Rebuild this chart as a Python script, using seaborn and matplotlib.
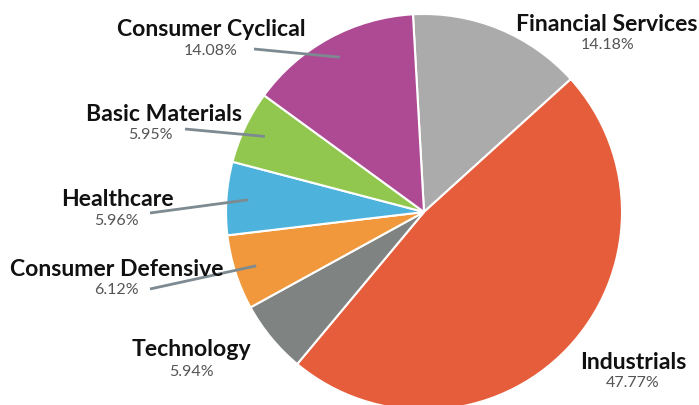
import numpy as np
import matplotlib
matplotlib.use("Agg")
import matplotlib.pyplot as plt
import seaborn as sns

# Sector weights (%), clockwise from the top
sectors = ["Financial Services", "Industrials", "Technology", "Consumer Defensive",
           "Healthcare", "Basic Materials", "Consumer Cyclical"]
weights = [14.18, 47.77, 5.94, 6.12, 5.96, 5.95, 14.08]
colors = ["#ABABAB", "#E55D3B", "#7F8381", "#F0983B", "#4DB2DC", "#92C74F", "#AD4A93"]

# label layout in pixel coords (x, baseline y from top) for name and percent
name_pos = {
    "Financial Services": (607, 31),
    "Industrials": (633, 369),
    "Technology": (191, 356),
    "Consumer Defensive": (117, 276),
    "Healthcare": (117, 206),
    "Basic Materials": (164, 121),
    "Consumer Cyclical": (211, 36),
}
pct_pos = {
    "Financial Services": (608, 49),
    "Industrials": (633, 387),
    "Technology": (191, 376),
    "Consumer Defensive": (116, 294),
    "Healthcare": (116, 225),
    "Basic Materials": (150, 139),
    "Consumer Cyclical": (211, 55),
}
# outer end of leader lines (only some labels have one)
leader_end = {
    "Consumer Cyclical": (254, 50),
    "Basic Materials": (185, 130),
    "Healthcare": (150, 214),
    "Consumer Defensive": (150, 290),
}

sns.set_theme(style="white")
plt.rcParams['font.family'] = ['Lato', 'DejaVu Sans']

W, H = 699, 406
fig = plt.figure(figsize=(W / 100, H / 100), dpi=100)
ax = fig.add_axes([0, 0, 1, 1])

cx, cy, R = 424, H - 213, 198
wedges, _ = ax.pie(weights, colors=colors, startangle=93.2, counterclock=False,
                   center=(cx, cy), radius=R,
                   wedgeprops=dict(edgecolor="white", linewidth=1.5))

for w, name, val in zip(wedges, sectors, weights):
    nx, ny = name_pos[name]
    px, py = pct_pos[name]
    ax.text(nx, H - ny, name, ha="center", va="baseline", fontsize=16.6,
            fontweight="bold", color="#111111")
    ax.text(px, H - py, f"{val:.2f}%", ha="center", va="baseline", fontsize=11.5,
            color="#555555")
    if name in leader_end:
        mid = np.deg2rad((w.theta1 + w.theta2) / 2)
        ix = cx + 0.89 * R * np.cos(mid)
        iy = cy + 0.89 * R * np.sin(mid)
        ex, ey = leader_end[name]
        ax.plot([ex, ix], [H - ey, iy], color="#7D8A92", lw=2, solid_capstyle="butt")

ax.set_xlim(0, W)
ax.set_ylim(0, H)
ax.set_aspect("equal")
ax.axis("off")

fig.savefig("out.png", dpi=100)
